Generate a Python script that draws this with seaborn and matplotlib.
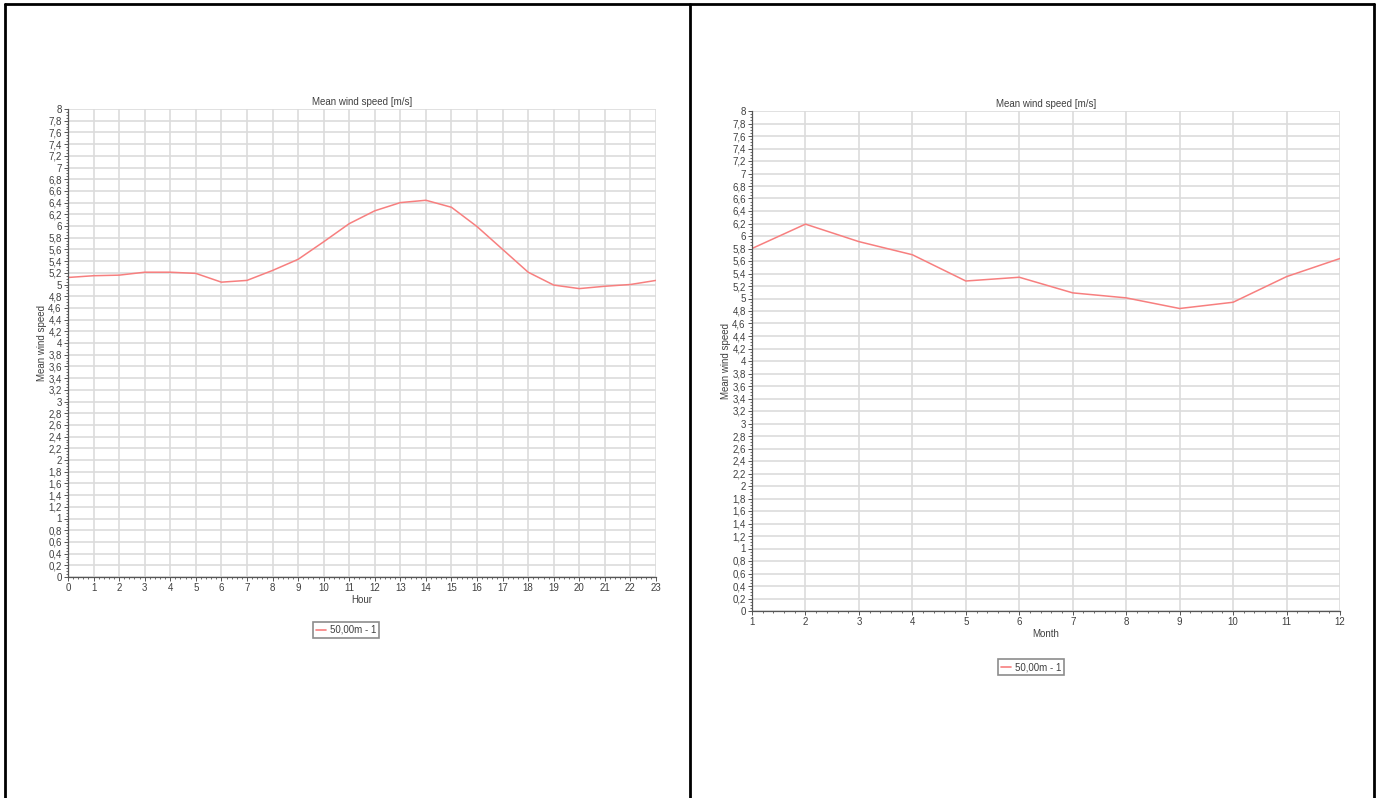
import matplotlib
matplotlib.use("Agg")
import matplotlib.pyplot as plt
from matplotlib.lines import Line2D
from matplotlib.ticker import MultipleLocator, AutoMinorLocator, FuncFormatter
import seaborn as sns
import pandas as pd

hours = list(range(24))
hour_speed = [5.12, 5.15, 5.16, 5.21, 5.21, 5.19, 5.04, 5.07, 5.24, 5.43, 5.73, 6.04,
              6.26, 6.40, 6.44, 6.32, 5.99, 5.60, 5.21, 4.99, 4.93, 4.97, 5.00, 5.07]
months = list(range(1, 13))
month_speed = [5.80, 6.19, 5.91, 5.70, 5.28, 5.34, 5.09, 5.01, 4.84, 4.94, 5.35, 5.64]
series_name = "50,00m - 1"
title_text = "Mean wind speed [m/s]"
ylabel_text = "Mean wind speed"

sns.set_style("white")
plt.rcParams['font.family'] = ['Liberation Sans', 'DejaVu Sans']

W, H = 1379, 798
fig = plt.figure(figsize=(W / 100, H / 100), dpi=100)

line_color = "#f77f7f"
grid_color = "#dcdcdc"
text_color = "#404040"

def comma_fmt(v, pos):
    s = f"{v:.1f}".rstrip("0").rstrip(".")
    return s.replace(".", ",")

def make_axes(px_left, px_right, px_top, px_bottom):
    return fig.add_axes([px_left / W, 1 - px_bottom / H,
                         (px_right - px_left) / W, (px_bottom - px_top) / H])

def style(ax, xvals, xlabel, ylab_x):
    ax.set_ylim(0, 8)
    ax.set_xlim(xvals[0], xvals[-1])
    ax.yaxis.set_major_locator(MultipleLocator(0.2))
    ax.yaxis.set_minor_locator(AutoMinorLocator(4))
    ax.yaxis.set_major_formatter(FuncFormatter(comma_fmt))
    ax.set_xticks(xvals)
    ax.xaxis.set_minor_locator(AutoMinorLocator(5))
    ax.grid(True, which="major", color=grid_color, linewidth=1.2)
    ax.set_axisbelow(True)
    for s in ["top", "right"]:
        ax.spines[s].set_visible(False)
    for s in ["left", "bottom"]:
        ax.spines[s].set_color("#555555")
        ax.spines[s].set_linewidth(0.9)
    ax.tick_params(axis="both", which="major", labelsize=7, length=3, width=0.7,
                   colors="#555555", labelcolor=text_color, pad=1.5, left=True, bottom=True)
    ax.tick_params(axis="both", which="minor", length=1.5, width=0.6, colors="#555555",
                   left=True, bottom=True)
    ax.set_title(title_text, fontsize=7, color=text_color, pad=3)
    ax.set_xlabel(xlabel, fontsize=7, color=text_color, labelpad=1)
    ax.set_ylabel(ylabel_text, fontsize=7, color=text_color)
    ax.yaxis.set_label_coords(ylab_x, 0.5)
    if ax.get_legend() is not None:
        ax.get_legend().remove()

# Left: hourly
ax1 = make_axes(68, 656, 109, 577)
df1 = pd.DataFrame({"Hour": hours, "Speed": hour_speed})
sns.lineplot(data=df1, x="Hour", y="Speed", ax=ax1, color=line_color, linewidth=1.1)
style(ax1, hours, "Hour", (47 - 68) / 588)

# Right: monthly
ax2 = make_axes(752, 1340, 111, 611)
df2 = pd.DataFrame({"Month": months, "Speed": month_speed})
sns.lineplot(data=df2, x="Month", y="Speed", ax=ax2, color=line_color, linewidth=1.1)
style(ax2, months, "Month", (731 - 752) / 588)

def add_legend(cx, cy):
    h = Line2D([0], [0], color=line_color, linewidth=1.2)
    leg = fig.legend([h], [series_name], loc="center",
                     bbox_to_anchor=(cx / W, 1 - cy / H), fontsize=7,
                     frameon=True, fancybox=False, handlelength=1.0,
                     handletextpad=0.4, borderpad=0.35, labelcolor=text_color)
    leg.get_frame().set_edgecolor("#707070")
    leg.get_frame().set_linewidth(1.2)

add_legend(346, 630)
add_legend(1031, 667)

# Page borders
bc = "black"
lw = 2
fig.add_artist(Line2D([5 / W, 1374 / W], [1 - 4 / H, 1 - 4 / H], color=bc, lw=lw, transform=fig.transFigure))
for px in (5, 690, 1374):
    fig.add_artist(Line2D([px / W, px / W], [0, 1 - 4 / H], color=bc, lw=lw, transform=fig.transFigure))

fig.savefig("out.png", dpi=100, facecolor="white")
